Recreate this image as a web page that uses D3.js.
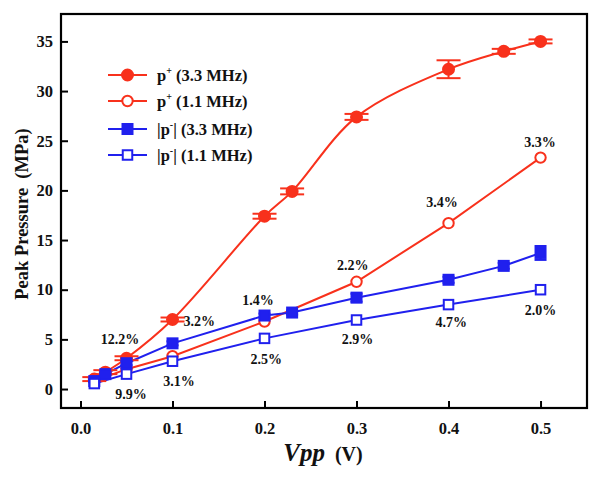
<!DOCTYPE html>
<html><head><meta charset="utf-8">
<script src="https://cdn.jsdelivr.net/npm/d3@7/dist/d3.min.js"></script>
<style>body{margin:0;background:#fff}svg{display:block}</style>
</head><body>
<svg id="chart" width="600" height="480"></svg>
<script>
// ---- data ----
const xs33 = [0.015, 0.027, 0.05, 0.1, 0.2, 0.23, 0.3, 0.4, 0.46, 0.5];
const pPlus33 = [1.0, 1.7, 3.1, 7.0, 17.4, 19.9, 27.4, 32.2, 34.0, 35.0];
const pPlus33Err = [0.2, 0.2, 0.2, 0.2, 0.25, 0.3, 0.3, 0.9, 0.25, 0.2];
const pMinus33 = [0.8, 1.5, 2.6, 4.6, 7.4, 7.7, 9.2, 11.0, 12.4, 13.7];
const pMinus33Err = [0.1, 0.1, 0.2, 0.2, 0.2, 0.2, 0.4, 0.3, 0.3, 0.7];
const xs11 = [0.015, 0.05, 0.1, 0.2, 0.3, 0.4, 0.5];
const pPlus11 = [0.8, 2.0, 3.3, 6.8, 10.8, 16.7, 23.3];
const pMinus11 = [0.55, 1.5, 2.8, 5.1, 6.95, 8.5, 10.0];
const xTicks = [0.0, 0.1, 0.2, 0.3, 0.4, 0.5];
const yTicks = [0, 5, 10, 15, 20, 25, 30, 35];
const noteText = ["12.2%", "9.9%", "3.2%", "3.1%", "1.4%", "2.5%", "2.2%", "2.9%", "4.7%", "2.0%", "3.4%", "3.3%"];
const noteX = [0.043, 0.055, 0.129, 0.107, 0.193, 0.202, 0.296, 0.301, 0.403, 0.5, 0.393, 0.4995];
const noteY = [5.0, -0.5, 6.85, 0.8, 8.96, 3.0, 12.5, 5.0, 6.75, 7.95, 18.8, 24.9];

const RED = "#f8311c", BLUE = "#2020ee";
const svg = d3.select("#chart");
const L = 61, T = 14, R = 587, B = 408;
const x = d3.scaleLinear().domain([-0.0212, 0.5505]).range([L, R]);
const y = d3.scaleLinear().domain([-1.91, 37.76]).range([B, T]);
const font = "'Liberation Serif','Times New Roman',serif";

// axes
const xAxis = d3.axisBottom(x).tickValues(xTicks).tickFormat(d3.format(".1f")).tickSizeInner(-7).tickSizeOuter(0).tickPadding(14);
const yAxis = d3.axisLeft(y).tickValues(yTicks).tickSizeInner(-7).tickSizeOuter(0).tickPadding(8);
const gx = svg.append("g").attr("transform", `translate(0,${B})`).call(xAxis);
const gy = svg.append("g").attr("transform", `translate(${L},0)`).call(yAxis);
[gx, gy].forEach(g => {
  g.select(".domain").remove();
  g.selectAll(".tick line").attr("stroke", "#000").attr("stroke-width", 2);
  g.selectAll("text").attr("font-family", font).attr("font-weight", "bold").attr("font-size", 16.5).attr("fill", "#111");
});
svg.append("rect").attr("x", L).attr("y", T).attr("width", R - L).attr("height", B - T)
  .attr("fill", "none").attr("stroke", "#000").attr("stroke-width", 2.2);

// axis titles
svg.append("text").attr("transform", `translate(28,214) rotate(-90)`).attr("text-anchor", "middle")
  .style("white-space", "pre")
  .attr("font-family", font).attr("font-weight", "bold").attr("font-size", 18.5).attr("fill", "#111")
  .text("Peak Pressure  (MPa)");
const xt = svg.append("text").attr("x", 323).attr("y", 461).attr("text-anchor", "middle")
  .attr("font-family", font).attr("font-weight", "bold").attr("fill", "#111");
xt.append("tspan").attr("font-style", "italic").attr("font-size", 25).text("Vpp");
xt.append("tspan").attr("font-size", 20).attr("dx", 10).text("(V)");

// series
const series = [
  {xs: xs33, ys: pPlus33, err: pPlus33Err, color: RED, shape: "circle", filled: true, curve: d3.curveCatmullRom.alpha(0.5), cap: 12},
  {xs: xs11, ys: pPlus11, err: null, color: RED, shape: "circle", filled: false, curve: d3.curveLinear, cap: 6},
  {xs: xs33, ys: pMinus33, err: pMinus33Err, color: BLUE, shape: "square", filled: true, curve: d3.curveLinear, cap: 6},
  {xs: xs11, ys: pMinus11, err: null, color: BLUE, shape: "square", filled: false, curve: d3.curveLinear, cap: 6}
];

function drawMarker(g, shape, filled, color, cx, cy) {
  if (shape === "circle") {
    g.append("circle").attr("cx", cx).attr("cy", cy).attr("r", filled ? 5.5 : 5.2)
      .attr("fill", filled ? color : "#fff").attr("stroke", color).attr("stroke-width", 2);
  } else {
    const s = filled ? 10 : 9.5;
    g.append("rect").attr("x", cx - s / 2).attr("y", cy - s / 2).attr("width", s).attr("height", s)
      .attr("fill", filled ? color : "#fff").attr("stroke", color).attr("stroke-width", 2);
  }
}

series.forEach(s => {
  const pts = s.xs.map((v, i) => [v, s.ys[i]]);
  svg.append("path").datum(pts)
    .attr("d", d3.line().x(d => x(d[0])).y(d => y(d[1])).curve(s.curve))
    .attr("fill", "none").attr("stroke", s.color).attr("stroke-width", 2);
});
series.forEach(s => {
  const g = svg.append("g");
  s.xs.forEach((v, i) => {
    if (s.err) {
      const cx = x(v), y1 = y(s.ys[i] - s.err[i]), y2 = y(s.ys[i] + s.err[i]);
      g.append("line").attr("x1", cx).attr("x2", cx).attr("y1", y1).attr("y2", y2).attr("stroke", s.color).attr("stroke-width", 2);
      [y1, y2].forEach(yy => g.append("line").attr("x1", cx - s.cap).attr("x2", cx + s.cap).attr("y1", yy).attr("y2", yy)
        .attr("stroke", s.color).attr("stroke-width", 2));
    }
    drawMarker(g, s.shape, s.filled, s.color, x(v), y(s.ys[i]));
  });
});

// annotations
noteText.forEach((t, i) => {
  svg.append("text").attr("x", x(noteX[i])).attr("y", y(noteY[i])).attr("dy", "0.35em")
    .attr("text-anchor", "middle").attr("font-family", font).attr("font-weight", "bold")
    .attr("font-size", 14).attr("fill", "#111").text(t);
});

// legend
const legendItems = [
  {sup: "+", pre: "p", bars: false, label: " (3.3 MHz)", color: RED, shape: "circle", filled: true},
  {sup: "+", pre: "p", bars: false, label: " (1.1 MHz)", color: RED, shape: "circle", filled: false},
  {sup: "-", pre: "p", bars: true, label: " (3.3 MHz)", color: BLUE, shape: "square", filled: true},
  {sup: "-", pre: "p", bars: true, label: " (1.1 MHz)", color: BLUE, shape: "square", filled: false}
];
const legendY = [75, 101, 129, 155];
legendItems.forEach((it, i) => {
  const g = svg.append("g");
  const yy = legendY[i];
  g.append("line").attr("x1", 108).attr("x2", 147).attr("y1", yy).attr("y2", yy).attr("stroke", it.color).attr("stroke-width", 2);
  drawMarker(g, it.shape, it.filled, it.color, 127.5, yy);
  const t = g.append("text").attr("x", 157).attr("y", yy + 5.5)
    .attr("font-family", font).attr("font-weight", "bold").attr("font-size", 16.5).attr("fill", "#111");
  if (it.bars) t.append("tspan").text("|");
  t.append("tspan").text(it.pre);
  t.append("tspan").attr("font-size", 10).attr("dy", -7).text(it.sup);
  if (it.bars) t.append("tspan").attr("dy", 7).text("|");
  t.append("tspan").attr("dy", it.bars ? 0 : 7).text(it.label);
});
</script>
</body></html>
